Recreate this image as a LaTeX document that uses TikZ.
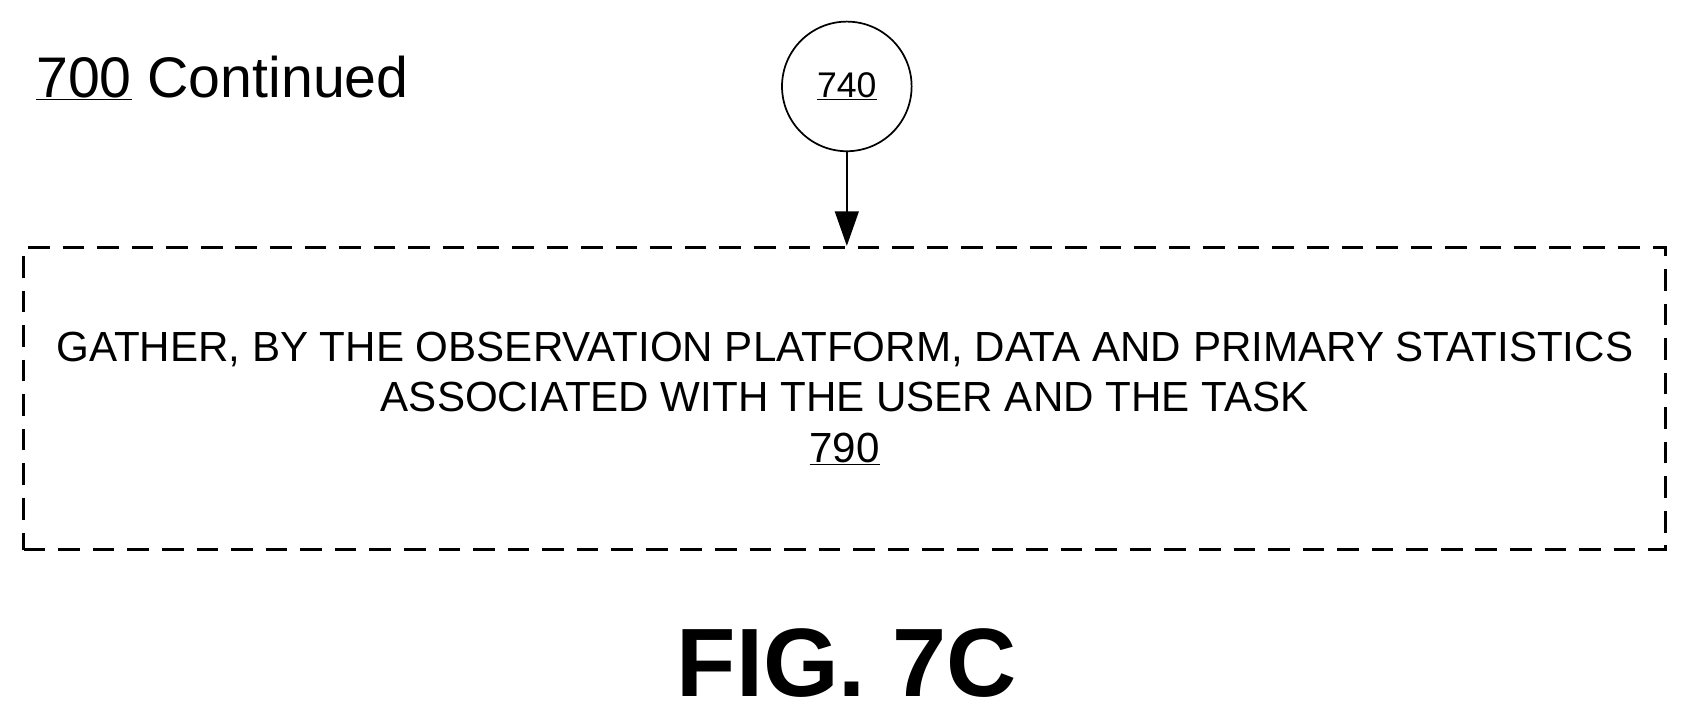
\documentclass[tikz,border=0pt]{standalone}
\usepackage{fontspec}
\setmainfont{Liberation Sans}
\usetikzlibrary{arrows.meta}
\begin{document}
\begin{tikzpicture}[x=1pt,y=-1pt,
  conn/.style={draw,circle,line width=1.6pt,minimum size=120pt,inner sep=0pt,font=\fontsize{33}{36}\selectfont},
  stepbox/.style={draw,line width=2.6pt,dash pattern=on 20pt off 12pt,minimum width=1520pt,minimum height=280pt,inner sep=0pt,align=center,font=\fontsize{39}{47}\selectfont},
  arr/.style={line width=1.8pt,-{Triangle[length=32pt,width=22pt]}}]
\useasboundingbox (0,0) rectangle (1560,667);
\node[anchor=base west,font=\fontsize{53}{60}\selectfont] (lbl) at (30,90) {\underline{700} Continued};
\node[conn] (c740) at (784,80) {\underline{740}};
\node[stepbox] (s790) at (782,369) {GATHER, BY THE OBSERVATION PLATFORM, DATA AND PRIMARY STATISTICS\\ASSOCIATED WITH THE USER AND THE TASK\\\underline{790}};
\draw[arr] (c740) -- (c740 |- s790.north);
\node[font=\bfseries\fontsize{90}{94}\selectfont] (fig) at (784,614) {FIG. 7C};
\end{tikzpicture}
\end{document}
